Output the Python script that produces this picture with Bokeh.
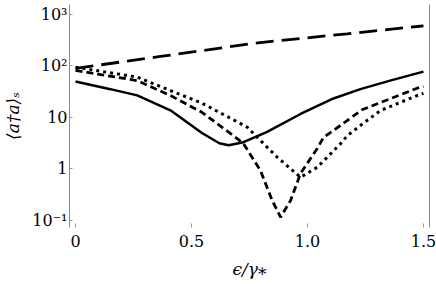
from bokeh.plotting import figure
from bokeh.models import FixedTicker, LinearAxis, Range1d
from bokeh.embed import file_html
from bokeh.resources import INLINE

# --- data ---
x_longdash = [0.0, 0.366, 0.754, 0.884, 1.171, 1.473, 1.5]
y_longdash = [90, 153, 270, 313, 422, 585, 600]

x_solid = [0.0, 0.15, 0.266, 0.409, 0.545, 0.62, 0.66, 0.724, 0.826, 0.97, 1.112, 1.228, 1.36, 1.5]
y_solid = [50, 35.5, 26.9, 13.8, 5.0, 3.16, 2.88, 3.31, 5.25, 11.7, 23.4, 35.5, 52.5, 77.6]

x_shortdash = [0.0, 0.266, 0.409, 0.545, 0.697, 0.724, 0.797, 0.848, 0.884, 0.927, 0.97,
               1.042, 1.069, 1.142, 1.235, 1.478, 1.5]
y_shortdash = [82, 52, 26.7, 12.6, 3.9, 3.1, 0.94, 0.244, 0.116, 0.244, 0.82,
               2.5, 4.1, 7.0, 14.1, 37.8, 40]

x_dotted = [0.0, 0.266, 0.409, 0.545, 0.740, 0.754, 0.869, 0.97, 1.042, 1.142, 1.171, 1.228,
            1.315, 1.473, 1.5]
y_dotted = [95, 60.7, 33.4, 19.0, 6.5, 5.6, 1.7, 0.69, 1.08, 3.08, 4.4, 7.0, 13.7, 26.7, 29.5]

x_ticks = [0, 0.5, 1.0, 1.5]
x_tick_labels = {0: "0", 0.5: "0.5", 1.0: "1.0", 1.5: "1.5"}
y_ticks = [0.1, 1, 10, 100, 1000]
y_tick_labels = {0.1: "10\u207b\u00b9", 1: "1", 10: "10", 100: "10\u00b2", 1000: "10\u00b3"}

FONT = "DejaVu Serif"

p = figure(width=436, height=284, output_backend="svg", toolbar_location=None,
           y_axis_type="log",
           x_range=Range1d(-0.026, 1.526), y_range=Range1d(10 ** -1.136, 10 ** 3.194),
           min_border_left=69, min_border_right=7, min_border_top=4, min_border_bottom=57)
p.outline_line_color = None
p.grid.visible = False
p.background_fill_color = "white"
p.border_fill_color = "white"

lw = 2.8
p.line(x_longdash, y_longdash, line_color="black", line_width=lw, line_dash="18 8")
p.line(x_solid, y_solid, line_color="black", line_width=2.5)
p.line(x_shortdash, y_shortdash, line_color="black", line_width=lw, line_dash="7 4")
p.line(x_dotted, y_dotted, line_color="black", line_width=3, line_dash="3 4")

# x axis
xa = p.xaxis[0]
xa.ticker = FixedTicker(ticks=x_ticks)
xa.major_label_overrides = x_tick_labels
xa.axis_line_color = None
xa.major_tick_in = 4
xa.major_tick_out = 0
xa.major_tick_line_color = "#999999"
xa.minor_tick_line_color = None
xa.major_label_standoff = 7
xa.major_label_text_font = FONT
xa.major_label_text_font_size = "16px"
xa.major_label_text_color = "black"
xa.axis_label = "\u03f5/\u03b3\u204e"
xa.axis_label_text_font = FONT
xa.axis_label_text_font_style = "italic"
xa.axis_label_text_font_size = "17px"
xa.axis_label_text_color = "black"
xa.axis_label_standoff = 9

# y axis
ya = p.yaxis[0]
ya.ticker = FixedTicker(ticks=y_ticks)
ya.major_label_overrides = y_tick_labels
ya.axis_line_color = "#888888"
ya.axis_line_width = 1
ya.major_tick_in = 3
ya.major_tick_out = 0
ya.major_tick_line_color = "#999999"
ya.minor_tick_line_color = None
ya.major_label_standoff = 2
ya.major_label_text_font = FONT
ya.major_label_text_font_size = "16px"
ya.major_label_text_color = "black"
ya.axis_label = "\u27e8a\u2020a\u27e9\u209b"
ya.axis_label_text_font = FONT
ya.axis_label_text_font_style = "italic"
ya.axis_label_text_font_size = "17px"
ya.axis_label_text_color = "black"
ya.axis_label_standoff = 6

# right frame line
ra = LinearAxis(ticker=FixedTicker(ticks=[]), axis_line_color="#888888",
                major_tick_line_color=None, minor_tick_line_color=None,
                major_label_text_font_size="0px")
p.add_layout(ra, "right")

open("out.html", "w").write(file_html(p, INLINE))
